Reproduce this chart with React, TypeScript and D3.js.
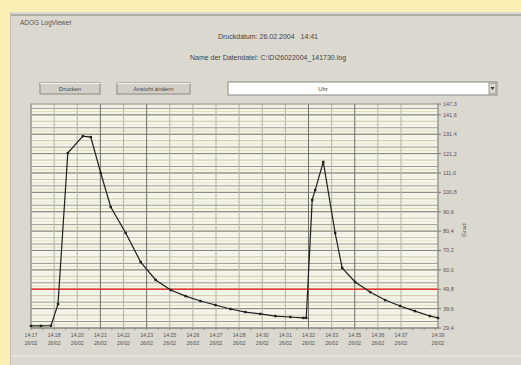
import React from 'react';
import * as d3 from 'd3';

// minutes since 14:17:30 and logged value
const times = [0, 0.54, 1.08, 1.46, 1.99, 2.8, 3.23, 3.77, 4.31, 5.12, 5.93, 6.74, 7.55, 8.36, 9.16, 9.97, 10.78, 11.59, 12.4, 13.21, 14.02, 14.72, 14.88, 15.2, 15.36, 15.8, 16.44, 16.82, 17.52, 18.33, 19.14, 19.95, 20.75, 21.56, 22.0];
const values = [30.5, 30.5, 30.6, 42.0, 121.5, 130.4, 129.9, 111.0, 93.1, 79.4, 64.1, 54.7, 49.4, 46.2, 43.6, 41.5, 39.4, 37.8, 36.8, 35.7, 35.2, 34.7, 34.7, 96.8, 102.0, 116.8, 79.4, 61.0, 53.6, 48.3, 44.1, 41.0, 38.3, 35.7, 34.7];

const yTicks = [29.4, 39.6, 49.8, 60.0, 70.2, 80.4, 90.6, 100.8, 111.0, 121.2, 131.4, 141.6];
const yMax = 147.3;
const redLimit = 49.8;
const xTicks = [0, 1.25, 2.5, 3.75, 5, 6.25, 7.5, 8.75, 10, 11.25, 12.5, 13.75, 15, 16.25, 17.5, 18.75, 20, 22];
const darkX = [3, 5, 12, 14];
const dateLabel = '26/02';
const unitLabel = 'Grad';

const start = new Date(2004, 1, 26, 14, 17, 30);

const plot = { left: 31, right: 438, top: 104, bottom: 328 };

const fmt = (v: number) => v.toFixed(1).replace('.', ',');
const timeFmt = d3.timeFormat('%H:%M');

const stripeColors = ['#bcbc9e', '#dedeb6', '#9a9a90', '#e8e8cc', '#c8c8a8', '#f2f1e6'];

const App: React.FC = () => {
	const x = d3.scaleLinear().domain([0, 22]).range([plot.left, plot.right]);
	const y = d3.scaleLinear().domain([yTicks[0], yMax]).range([plot.bottom, plot.top]);

	const step = (yTicks[1] - yTicks[0]) / 6;
	const minor = d3.range(yTicks[0], yMax, step);

	const line = d3
		.line<number>()
		.x((_, i) => x(times[i]))
		.y((d) => y(d));

	const font = 'Liberation Sans, Arial, sans-serif';

	return (
		<div style={{ position: 'fixed', left: 0, top: 0 }}>
			<svg width={521} height={365} style={{ display: 'block' }} fontFamily={font}>
				<rect width={521} height={365} fill="#fcefb6" />
				<rect x={10} y={12} width={511} height={353} fill="#dbd8d0" />
				<line x1={10} x2={521} y1={15} y2={15} stroke="#a09e98" strokeWidth={1.5} />
				<line x1={10.5} x2={10.5} y1={12} y2={365} stroke="#c4c1b9" />
				<line x1={12} x2={521} y1={356} y2={356} stroke="#eeece6" />

				<text x={20} y={25} fontSize={6.5} fill="#555">ADOG LogViewer</text>
				<text x={268} y={39} fontSize={7} fill="#444" textAnchor="middle">
					Druckdatum: 26.02.2004{'\u00a0\u00a0\u00a0'}14:41
				</text>
				<text x={268} y={60} fontSize={7} fill="#444" textAnchor="middle">
					Name der Datendatei: C:\D\26022004_141730.log
				</text>

				{/* buttons */}
				<g fontSize={6} fill="#444" textAnchor="middle">
					<rect x={40} y={83} width={60} height={11} fill="#d2cfc7" stroke="#8a8880" />
					<line x1={40} x2={100} y1={83.5} y2={83.5} stroke="#f4f2ec" />
					<text x={70} y={91}>Drucken</text>
					<rect x={117} y={83} width={73} height={11} fill="#d2cfc7" stroke="#8a8880" />
					<line x1={117} x2={190} y1={83.5} y2={83.5} stroke="#f4f2ec" />
					<text x={153.5} y={91}>Ansicht ändern</text>
					<rect x={228} y={82} width={269} height={13} fill="#fff" stroke="#8a8880" />
					<rect x={489} y={83} width={7} height={11} fill="#dbd8d0" stroke="#9a988f" />
					<text x={323} y={91}>Uhr</text>
					<path d="M490.5,87 L494.5,87 L492.5,90 Z" fill="#333" />
				</g>

				{/* plot area */}
				<rect x={plot.left} y={plot.top} width={plot.right - plot.left} height={plot.bottom - plot.top} fill="#f6f5ec" />
				{minor.map((v, i) => (
					<line key={'m' + i} x1={plot.left} x2={plot.right} y1={y(v)} y2={y(v)} stroke={stripeColors[i % stripeColors.length]} strokeWidth={1} />
				))}
				{yTicks.map((v) => (
					<line key={'t' + v} x1={plot.left} x2={plot.right} y1={y(v)} y2={y(v)} stroke="#85857b" strokeWidth={1} />
				))}
				{xTicks.map((t, i) => (
					<line key={'v' + t} x1={x(t)} x2={x(t)} y1={plot.top} y2={plot.bottom} stroke={darkX.includes(i) ? '#6f6f68' : '#b4b4a6'} strokeWidth={1} />
				))}
				<line x1={plot.left} x2={plot.right} y1={y(redLimit)} y2={y(redLimit)} stroke="#e8372f" strokeWidth={1.3} />
				<rect x={plot.left} y={plot.top} width={plot.right - plot.left} height={plot.bottom - plot.top} fill="none" stroke="#8e8c84" />

				{/* data */}
				<path d={line(values) ?? ''} fill="none" stroke="#1e1e1e" strokeWidth={1.2} />
				{values.map((v, i) => (
					<rect key={'p' + i} x={x(times[i]) - 1.2} y={y(v) - 1.2} width={2.4} height={2.4} fill="#1e1e1e" />
				))}

				{/* right axis */}
				<g fontSize={5.5} fill="#555">
					{[...yTicks, yMax].map((v) => (
						<g key={'yl' + v}>
							<line x1={plot.right} x2={plot.right + 3} y1={y(v)} y2={y(v)} stroke="#777" />
							<text x={plot.right + 5} y={y(v) + 2}>{fmt(v)}</text>
						</g>
					))}
				</g>
				<text transform="translate(466,230) rotate(-90)" fontSize={6} fill="#555" textAnchor="middle">{unitLabel}</text>

				{/* x axis */}
				<g fontSize={5.2} fill="#555" textAnchor="middle">
					{d3.range(0, 22.01, 0.625).map((t) => (
						<line key={'xt' + t} x1={x(t)} x2={x(t)} y1={plot.bottom} y2={plot.bottom + 2} stroke="#888" />
					))}
					{xTicks.map((t) => (
						<g key={'xl' + t}>
							<text x={x(t)} y={337}>{timeFmt(new Date(start.getTime() + t * 60000))}</text>
							<text x={x(t)} y={345}>{dateLabel}</text>
						</g>
					))}
				</g>
			</svg>
		</div>
	);
};

export default App;
